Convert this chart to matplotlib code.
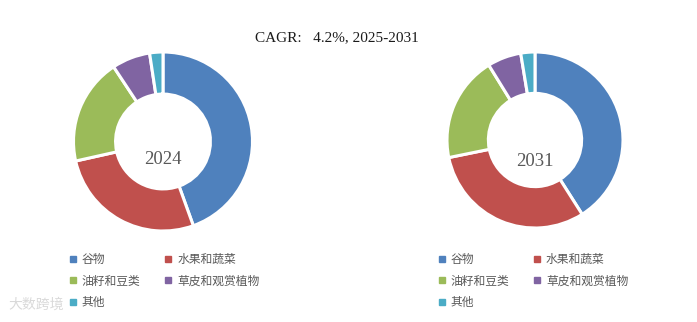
import matplotlib
matplotlib.use("Agg")
import matplotlib.pyplot as plt
from matplotlib.lines import Line2D

plt.rcParams['font.family'] = ['Noto Sans CJK SC', 'DejaVu Sans']

# data (shares in %)
categories = ["谷物", "水果和蔬菜", "油籽和豆类", "草皮和观赏植物", "其他"]
share_2024 = [44.5, 27.0, 19.2, 6.9, 2.4]
share_2031 = [41.0, 30.8, 19.4, 6.2, 2.6]
years = ["2024", "2031"]
colors = ["#4F81BD", "#C0504D", "#9BBB59", "#8064A2", "#4BACC6"]
title = "CAGR:   4.2%, 2025-2031"

W, H = 697, 322
fig = plt.figure(figsize=(W / 100, H / 100), dpi=100)


def px_axes(cx, cy, r):
    # axes box in pixel coords (top-left origin) -> figure fraction
    return fig.add_axes([(cx - r) / W, (H - cy - r) / H, 2 * r / W, 2 * r / H])


boxes = [(163, 141.5, 89.5), (535, 140, 88)]
legend_x = [0.092, 0.621]
label_dy = [-0.2, -0.24]

for (cx, cy, r), vals, year, lx, dy in zip(boxes, [share_2024, share_2031], years,
                                          legend_x, label_dy):
    ax = px_axes(cx, cy, r)
    ax.pie(vals, colors=colors, startangle=90, counterclock=False, radius=1,
           wedgeprops=dict(width=0.47, edgecolor="white", linewidth=2.2))
    ax.set_xlim(-1, 1)
    ax.set_ylim(-1, 1)
    ax.set_aspect("equal")
    ax.axis("off")
    ax.text(0, dy, year, ha="center", va="center", fontsize=13.5,
            family="Liberation Serif", color="#595959")

    # legend filled row-wise like the original
    handles = [Line2D([], [], marker="s", color=c, linestyle="", markersize=3.8)
               for c in colors]
    order = [0, 2, 4, 1, 3]
    fig.legend([handles[i] for i in order], [categories[i] for i in order],
               loc="upper left", bbox_to_anchor=(lx, 0.23), ncol=2,
               frameon=False, fontsize=8.5, labelcolor="#595959",
               handlelength=0.7, handletextpad=0.4, columnspacing=2.0,
               labelspacing=0.75, borderaxespad=0)

fig.text(337 / W, 1 - 38 / H, title, ha="center", va="center", fontsize=11,
         family="Liberation Serif", color="#1a1a1a")

# faint watermark bottom-left
fig.text(8 / W, 1 - 305 / H, "大数跨境", fontsize=10, color="#d0d0d0",
         ha="left", va="center", alpha=0.8)

fig.savefig("out.png", dpi=100, facecolor="white")
